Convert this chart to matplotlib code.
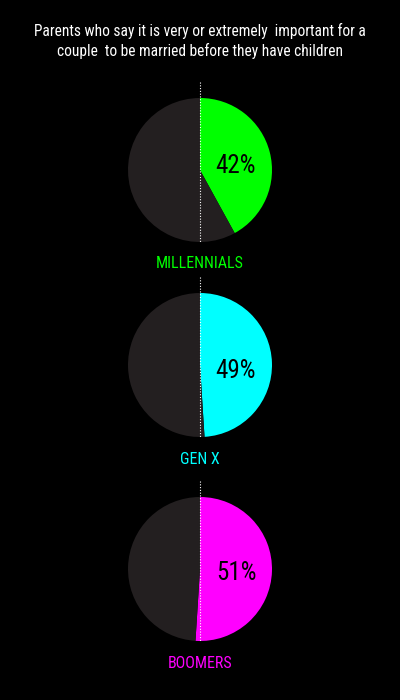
import matplotlib
matplotlib.use("Agg")
import matplotlib.pyplot as plt

# data
generations = ["MILLENNIALS", "GEN X", "BOOMERS"]
shares = [42, 49, 51]
colors = ["#00ff00", "#00ffff", "#ff00ff"]
rest_color = "#231f20"
title = ("Parents who say it is very or extremely  important for a\n"
         "couple  to be married before they have children")

plt.rcParams['font.family'] = ['Roboto Condensed', 'DejaVu Sans']

fig = plt.figure(figsize=(4, 7), dpi=100, facecolor="black")
ax = fig.add_axes([0, 0, 1, 1])
ax.set_facecolor("black")

H = 700
radius = 72
centers_y = [170, 365, 569]  # pixel rows from the top
pct_y = [166, 371, 573]
label_y = [264, 460, 664]

for share, color, name, cy, py, ly in zip(shares, colors, generations,
                                          centers_y, pct_y, label_y):
    y = H - cy
    ax.pie([share, 100 - share], colors=[color, rest_color], startangle=90,
           counterclock=False, center=(200, y), radius=radius,
           wedgeprops=dict(linewidth=0))
    # dotted guide line
    ax.plot([200, 200], [y + radius + 16, y - radius], color="white",
            linestyle=(0, (1, 1.5)), linewidth=0.8)
    ax.text(236, H - py, f"{share}%", color="black", fontsize=18,
            ha="center", va="center")
    ax.text(200, H - ly, name, color=color, fontsize=11.5,
            ha="center", va="center")

fig.text(0.5, 1 - 41 / H, title, color="white", fontsize=11.2,
         ha="center", va="center", linespacing=1.3)

ax.set_xlim(0, 400)
ax.set_ylim(0, H)
ax.set_aspect("equal")
ax.axis("off")

fig.savefig("out.png", dpi=100, facecolor="black")
